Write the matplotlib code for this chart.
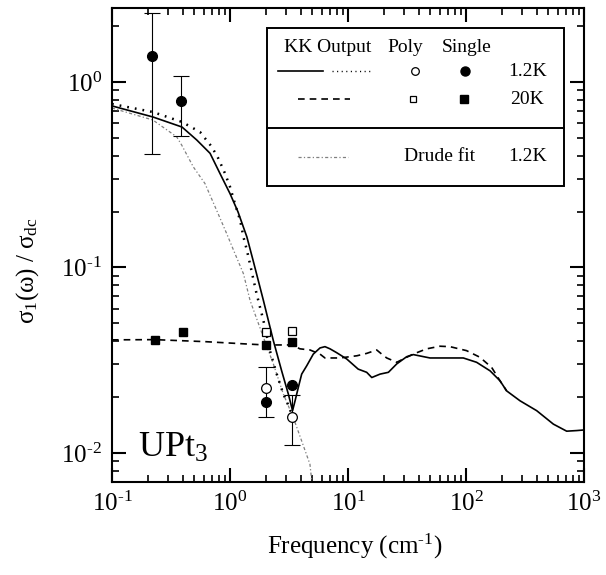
import math
import matplotlib
matplotlib.use("Agg")
import matplotlib.pyplot as plt
from matplotlib.patches import Rectangle
from matplotlib.ticker import NullFormatter, FuncFormatter

plt.rcParams['font.family'] = ['Liberation Serif', 'DejaVu Serif']
plt.rcParams['mathtext.fontset'] = 'stix'
plt.rcParams['mathtext.default'] = 'regular'
plt.rcParams['axes.unicode_minus'] = False

# KK output, 1.2K, single crystal (solid)
kk_single_w = [0.1, 0.222, 0.392, 0.523, 0.678, 0.822, 1.00, 1.17, 1.39, 1.57, 1.92,
               2.33, 2.74, 3.12, 3.39, 3.56, 3.79, 4.05, 4.47, 5.08, 5.79, 6.38, 7.04,
               8.02, 9.75, 12.2, 14.4, 15.9, 18.7, 22.0, 25.9, 31.4, 35.7, 49.5, 94.9,
               123, 160, 194, 221, 287, 397, 550, 713, 867, 1000]
kk_single_s = [0.742, 0.647, 0.571, 0.486, 0.412, 0.321, 0.250, 0.199, 0.146, 0.109, 0.0663,
               0.0403, 0.0277, 0.0208, 0.0169, 0.0191, 0.0225, 0.0266, 0.0295, 0.0341, 0.0368,
               0.0374, 0.0364, 0.0347, 0.0321, 0.0283, 0.0272, 0.0255, 0.0266, 0.0272, 0.0302,
               0.0330, 0.0339, 0.0325, 0.0325, 0.0308, 0.0277, 0.0245, 0.0216, 0.0191, 0.0169,
               0.0143, 0.0131, 0.0132, 0.0133]

# KK output, 1.2K, polycrystal (dotted)
kk_poly_w = [0.1, 0.222, 0.392, 0.557, 0.700, 0.796, 0.907, 1.00, 1.10, 1.22, 1.30, 1.39,
             1.50, 1.68, 1.92, 2.18, 2.49, 2.83, 3.18, 3.33]
kk_poly_s = [0.760, 0.688, 0.608, 0.537, 0.447, 0.387, 0.321, 0.272, 0.221, 0.179, 0.146,
             0.124, 0.100, 0.0721, 0.0517, 0.0356, 0.0266, 0.0208, 0.0176, 0.0162]

# KK output, 20K (dashed)
kk_20k_w = [0.1, 0.231, 0.614, 1.34, 1.98, 3.33, 3.92, 4.76, 5.79, 6.38, 8.55, 11.9, 14.4,
            17.5, 19.3, 21.3, 25.9, 29.4, 35.7, 46.4, 60.2, 73.1, 101, 131, 165, 194, 221]
kk_20k_s = [0.0407, 0.0408, 0.0398, 0.0387, 0.0382, 0.0382, 0.0364, 0.0359, 0.0341, 0.0325,
            0.0325, 0.0334, 0.0344, 0.0359, 0.0341, 0.0325, 0.0308, 0.0321, 0.0341, 0.0364,
            0.0376, 0.0374, 0.0356, 0.0328, 0.0289, 0.0245, 0.0216]

# Drude fit, 1.2K
drude_w = [0.1, 0.222, 0.353, 0.390, 0.489, 0.614, 0.771, 0.938, 1.10, 1.30, 1.48, 1.92,
           2.33, 2.83, 3.44, 4.05, 4.76, 4.95]
drude_s = [0.723, 0.623, 0.506, 0.456, 0.348, 0.283, 0.203, 0.152, 0.119, 0.0925, 0.0663,
           0.0420, 0.0302, 0.0208, 0.0155, 0.0116, 0.00869, 0.00689]

# measured points
single_12k_w = [0.217, 0.384, 2.01, 3.33]
single_12k_s = [1.38, 0.79, 0.0189, 0.0233]
single_12k_err = [0.97, 0.28, 0, 0]
poly_12k_w = [2.01, 3.33]
poly_12k_s = [0.0224, 0.0157]
poly_12k_err = [0.0068, 0.0047]
single_20k_w = [0.231, 0.397, 2.01, 3.33]
single_20k_s = [0.0408, 0.0451, 0.0380, 0.0395]
poly_20k_w = [2.01, 3.33]
poly_20k_s = [0.0451, 0.0452]


def pow10(v, pos):
    e = int(round(math.log10(v)))
    sign = '\u2010' if e < 0 else ''
    return '10$^{%s%d}$' % (sign, abs(e))


fig = plt.figure(figsize=(6.06, 5.75), dpi=100)
ax = fig.add_axes([0.1848, 0.1617, 0.7789, 0.8243])

solid = dict(color='black', lw=1.2, ls='-')
dotted = dict(color='black', lw=1.8, ls=(0, (0.7, 2.4)))
dashed = dict(color='black', lw=1.2, ls=(0, (4, 3)))
drude = dict(color='0.5', lw=0.9, ls=(0, (2.5, 1.8, 1, 1.8)))

ax.plot(drude_w, drude_s, **drude)
ax.plot(kk_poly_w, kk_poly_s, **dotted)
ax.plot(kk_20k_w, kk_20k_s, **dashed)
ax.plot(kk_single_w, kk_single_s, **solid)

ax.errorbar(single_12k_w[:2], single_12k_s[:2], yerr=single_12k_err[:2], fmt='none',
            ecolor='black', elinewidth=0.8, capsize=6, capthick=0.8)
ax.errorbar(poly_12k_w, poly_12k_s, yerr=poly_12k_err, fmt='none',
            ecolor='black', elinewidth=0.8, capsize=6, capthick=0.8)

ax.plot(single_12k_w, single_12k_s, 'o', ms=7, mfc='black', mec='black', ls='none')
ax.plot(poly_12k_w, poly_12k_s, 'o', ms=7, mfc='white', mec='black', mew=0.9, ls='none')
ax.plot(single_20k_w, single_20k_s, 's', ms=6, mfc='black', mec='black', ls='none')
ax.plot(poly_20k_w, poly_20k_s, 's', ms=6, mfc='white', mec='black', mew=0.9, ls='none')

ax.set_xscale('log')
ax.set_yscale('log')
ax.set_xlim(0.1, 1000)
ax.set_ylim(0.00697, 2.5)
ax.xaxis.set_major_formatter(FuncFormatter(pow10))
ax.yaxis.set_major_formatter(FuncFormatter(pow10))
ax.yaxis.set_minor_formatter(NullFormatter())
ax.xaxis.set_minor_formatter(NullFormatter())

for s in ax.spines.values():
    s.set_linewidth(1.5)
ax.tick_params(which='both', direction='in', top=True, right=True)
ax.tick_params(which='major', length=10, width=1.5, labelsize=18, pad=7)
ax.tick_params(which='minor', length=5, width=1.2)

ax.set_xlabel('Frequency (cm$^{\u20101}$)', fontsize=18)
ax.xaxis.set_label_coords(0.515, -0.105)
ax.set_ylabel(r'$\sigma_1(\omega)\ /\ \sigma_{dc}$', fontsize=18)
ax.yaxis.set_label_coords(-0.15, 0.447)

ax.text(0.055, 0.053, 'UPt$_3$', transform=ax.transAxes, fontsize=26, va='baseline')

# legend table
ax.add_patch(Rectangle((0.328, 0.625), 0.63, 0.333, transform=ax.transAxes,
                       fill=False, lw=1.4, ec='black', zorder=5))
ax.plot([0.328, 0.958], [0.746, 0.746], transform=ax.transAxes, color='black', lw=1.4,
        zorder=5)
fs = 14
ax.text(0.457, 0.916, 'KK Output', transform=ax.transAxes, fontsize=fs, ha='center', va='center')
ax.text(0.621, 0.916, 'Poly', transform=ax.transAxes, fontsize=fs, ha='center', va='center')
ax.text(0.752, 0.916, 'Single', transform=ax.transAxes, fontsize=fs, ha='center', va='center')
ax.text(0.881, 0.867, '1.2K', transform=ax.transAxes, fontsize=fs, ha='center', va='center')
ax.text(0.879, 0.808, '20K', transform=ax.transAxes, fontsize=fs, ha='center', va='center')
ax.text(0.693, 0.686, 'Drude fit', transform=ax.transAxes, fontsize=fs, ha='center', va='center')
ax.text(0.881, 0.686, '1.2K', transform=ax.transAxes, fontsize=fs, ha='center', va='center')

ax.plot([0.352, 0.447], [0.867, 0.867], transform=ax.transAxes, **solid)
ax.plot([0.466, 0.547], [0.867, 0.867], transform=ax.transAxes, color='black', lw=1.0,
        ls=(0, (0.8, 2.5)))
ax.plot([0.394, 0.504], [0.808, 0.808], transform=ax.transAxes, **dashed)
ax.plot([0.394, 0.5], [0.686, 0.686], transform=ax.transAxes, **drude)
ax.plot([0.642], [0.867], 'o', ms=5.5, mfc='white', mec='black', mew=0.9, transform=ax.transAxes)
ax.plot([0.748], [0.867], 'o', ms=6.5, mfc='black', mec='black', transform=ax.transAxes)
ax.plot([0.638], [0.808], 's', ms=5, mfc='white', mec='black', mew=0.9, transform=ax.transAxes)
ax.plot([0.746], [0.808], 's', ms=5.5, mfc='black', mec='black', transform=ax.transAxes)

fig.savefig('out.png', dpi=100)
